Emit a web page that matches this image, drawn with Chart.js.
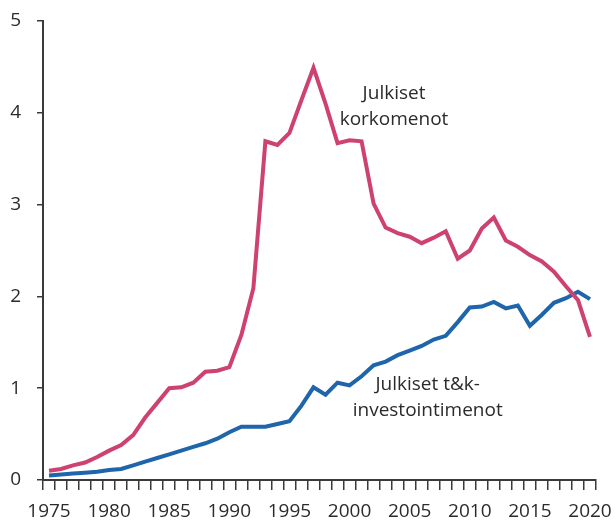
<!DOCTYPE html>
<html>
<head>
<meta charset="utf-8">
<script src="https://cdn.jsdelivr.net/npm/chart.js@4.4.1/dist/chart.umd.min.js"></script>
<style>
  html, body { margin: 0; padding: 0; background: #fff; }
  #wrap { width: 616px; height: 520px; }
</style>
</head>
<body>
<div id="wrap"><canvas id="chart" width="616" height="520"></canvas></div>
<script>
const years = [];
for (let y = 1975; y <= 2020; y++) years.push(String(y));

const korkomenot = [
    0.10, 0.12, 0.16, 0.19, 0.25, 0.32, 0.38, 0.49, 0.68, 0.84,
    1.00, 1.01, 1.06, 1.18, 1.19, 1.23, 1.58, 2.09, 3.69, 3.65,
    3.78, 4.14, 4.49, 4.10, 3.67, 3.70, 3.69, 3.01, 2.75, 2.69,
    2.65, 2.58, 2.64, 2.71, 2.41, 2.50, 2.74, 2.86, 2.61, 2.54,
    2.45, 2.38, 2.27, 2.11, 1.96, 1.56
];

const tkMenot = [
    0.05, 0.06, 0.07, 0.08, 0.09, 0.11, 0.12, 0.16, 0.20, 0.24,
    0.28, 0.32, 0.36, 0.40, 0.45, 0.52, 0.58, 0.58, 0.58, 0.61,
    0.64, 0.81, 1.01, 0.93, 1.06, 1.03, 1.13, 1.25, 1.29, 1.36,
    1.41, 1.46, 1.53, 1.57, 1.72, 1.88, 1.89, 1.94, 1.87, 1.90,
    1.68, 1.80, 1.93, 1.98, 2.05, 1.97
];

const pink = 'rgb(206, 66, 112)';
const blue = 'rgb(30, 101, 171)';
const axisColor = '#3a3a3a';
const textColor = '#2b2b2b';
const fontFamily = "'Open Sans', 'Noto Sans', sans-serif";

// text labels placed next to the lines, in data coordinates (x = category index)
const seriesLabels = [
    { lines: ['Julkiset', 'korkomenot'], x: 28.7, y: 4.15, color: textColor },
    { lines: ['Julkiset t&k-', 'investointimenot'], x: 31.5, y: 0.98, color: textColor }
];

const labelPlugin = {
    id: 'seriesLabels',
    afterDatasetsDraw(chart) {
        const ctx = chart.ctx;
        const xs = chart.scales.x;
        const ys = chart.scales.y;
        ctx.save();
        ctx.font = '19px ' + fontFamily;
        ctx.textAlign = 'center';
        ctx.textBaseline = 'alphabetic';
        seriesLabels.forEach(lab => {
            const px = xs.getPixelForValue(lab.x);
            const py = ys.getPixelForValue(lab.y);
            ctx.fillStyle = lab.color;
            lab.lines.forEach((t, i) => ctx.fillText(t, px, py + i * 26));
        });
        ctx.restore();
    }
};

new Chart(document.getElementById('chart'), {
    type: 'line',
    data: {
        labels: years,
        datasets: [
            {
                label: 'Julkiset korkomenot',
                data: korkomenot,
                borderColor: pink,
                backgroundColor: pink,
                borderWidth: 4,
                pointRadius: 0,
                tension: 0
            },
            {
                label: 'Julkiset t&k-investointimenot',
                data: tkMenot,
                borderColor: blue,
                backgroundColor: blue,
                borderWidth: 4,
                pointRadius: 0,
                tension: 0
            }
        ]
    },
    options: {
        responsive: false,
        animation: false,
        layout: { padding: { top: 21, right: 20, left: 0, bottom: 0 } },
        plugins: {
            legend: { display: false },
            tooltip: { enabled: false }
        },
        scales: {
            x: {
                offset: true,
                grid: {
                    offset: true,
                    drawOnChartArea: false,
                    color: axisColor,
                    tickLength: 10,
                    lineWidth: 1.5
                },
                border: { color: axisColor, width: 2 },
                ticks: {
                    autoSkip: false,
                    maxRotation: 0,
                    padding: 10,
                    color: textColor,
                    font: { size: 19, family: fontFamily },
                    callback: function (val, i) {
                        const y = Number(years[i]);
                        return y % 5 === 0 ? years[i] : '';
                    }
                },
                afterFit: s => {
                    s.height = 40;
                    s.paddingLeft = 0;
                    s.paddingRight = 0;
                }
            },
            y: {
                min: 0,
                max: 5,
                grid: {
                    drawOnChartArea: false,
                    color: axisColor,
                    tickLength: 6,
                    lineWidth: 1.5
                },
                border: { color: axisColor, width: 2 },
                ticks: {
                    stepSize: 1,
                    padding: 16,
                    color: textColor,
                    font: { size: 19, family: fontFamily }
                },
                afterFit: s => {
                    s.width = 43;
                    s.paddingTop = 0;
                    s.paddingBottom = 0;
                }
            }
        }
    },
    plugins: [labelPlugin]
});
</script>
</body>
</html>
